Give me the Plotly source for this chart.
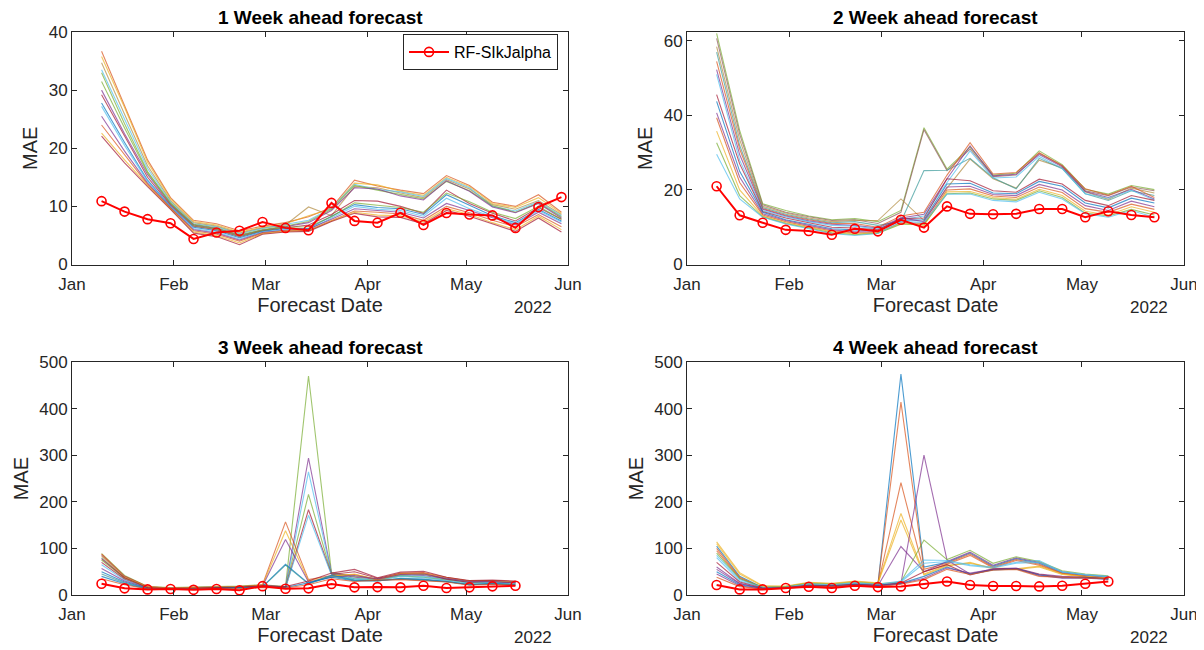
import plotly.graph_objects as go

# ---------------- data ----------------
dates = ["2022-01-10", "2022-01-17", "2022-01-24", "2022-01-31", "2022-02-07", "2022-02-14",
         "2022-02-21", "2022-02-28", "2022-03-07", "2022-03-14", "2022-03-21", "2022-03-28",
         "2022-04-04", "2022-04-11", "2022-04-18", "2022-04-25", "2022-05-02", "2022-05-09",
         "2022-05-16", "2022-05-23", "2022-05-30"]

month_ticks = ["2022-01-01", "2022-02-01", "2022-03-01", "2022-04-01", "2022-05-01", "2022-06-01"]
month_labels = ["Jan", "Feb", "Mar", "Apr", "May", "Jun"]

titles = ["1 Week ahead forecast", "2 Week ahead forecast", "3 Week ahead forecast", "4 Week ahead forecast"]
red_name = "RF-SIkJalpha"

# 1 week ahead
red_w1 = [10.9, 9.1, 7.8, 7.1, 4.4, 5.5, 5.8, 7.3, 6.3, 5.9, 10.6, 7.5, 7.2, 8.9, 6.8, 8.85, 8.6, 8.45, 6.3, 9.9, 11.6]
ens_w1 = [
    [36.7, 27.5, 18.0, 11.5, 7.6, 7.0, 5.8, 6.6, 7.2, 8.2, 9.8, 14.5, 13.5, 12.8, 12.2, 15.3, 13.6, 10.7, 10.0, 12.0, 9.0],
    [35.8, 27.0, 17.6, 11.3, 7.4, 6.8, 5.6, 6.4, 7.0, 8.4, 9.6, 14.0, 13.7, 12.6, 11.9, 15.0, 13.4, 10.5, 9.8, 11.5, 8.8],
    [34.7, 26.0, 17.0, 11.0, 7.2, 6.6, 5.4, 6.3, 6.8, 9.9, 8.4, 13.4, 13.2, 12.3, 11.5, 14.6, 13.0, 10.3, 9.5, 11.0, 8.6],
    [33.5, 25.0, 16.5, 10.8, 7.0, 6.5, 5.3, 6.2, 6.9, 7.6, 9.7, 13.8, 12.9, 12.5, 11.7, 14.8, 13.2, 10.0, 9.2, 10.8, 8.4],
    [33.0, 24.2, 16.0, 10.6, 6.9, 6.3, 5.1, 6.0, 6.6, 7.4, 9.5, 13.6, 12.8, 12.0, 11.3, 14.3, 12.7, 10.1, 9.0, 10.6, 8.2],
    [30.0, 22.5, 15.5, 10.4, 6.8, 6.2, 5.0, 5.9, 6.5, 7.2, 9.3, 13.2, 13.0, 11.8, 11.1, 14.4, 12.6, 9.9, 8.9, 10.5, 8.0],
    [29.2, 22.0, 15.0, 10.2, 6.6, 6.0, 4.8, 5.8, 6.3, 6.8, 8.6, 11.0, 10.9, 10.0, 8.8, 12.8, 10.5, 8.8, 7.5, 9.8, 7.8],
    [27.8, 21.0, 14.5, 10.0, 6.4, 5.8, 4.6, 5.7, 6.2, 6.2, 8.3, 10.3, 9.8, 9.6, 8.6, 12.0, 10.2, 8.4, 7.2, 9.5, 7.5],
    [27.2, 20.5, 14.3, 9.9, 6.2, 5.6, 4.4, 5.6, 6.0, 6.0, 8.0, 10.0, 9.5, 9.3, 8.3, 11.4, 9.6, 8.2, 7.0, 9.3, 7.3],
    [25.5, 19.5, 14.0, 9.8, 6.0, 5.4, 4.2, 5.5, 5.9, 6.1, 7.8, 9.6, 9.3, 9.0, 8.0, 10.5, 9.3, 8.0, 6.8, 9.0, 7.0],
    [24.0, 18.8, 13.8, 9.7, 5.8, 5.2, 4.0, 5.4, 5.8, 5.9, 7.6, 9.2, 9.0, 8.7, 7.6, 10.0, 8.9, 7.6, 6.5, 8.6, 6.5],
    [22.6, 18.0, 13.6, 9.6, 5.6, 5.0, 3.7, 5.3, 5.7, 5.8, 7.5, 9.0, 8.5, 8.4, 7.3, 9.6, 8.6, 7.2, 6.0, 8.3, 6.0],
    [22.1, 17.5, 13.4, 9.5, 5.4, 4.8, 3.4, 5.2, 5.6, 5.7, 7.4, 8.8, 8.2, 8.1, 7.0, 9.3, 8.3, 7.0, 5.7, 8.0, 5.6],
    [31.5, 23.5, 15.8, 10.5, 6.7, 6.1, 4.9, 5.9, 6.4, 6.5, 8.2, 10.6, 10.2, 9.8, 9.0, 12.3, 10.8, 9.0, 7.9, 10.0, 7.8],
]

# 2 weeks ahead
red_w2 = [21.0, 13.2, 11.2, 9.3, 9.0, 8.0, 9.6, 8.9, 12.0, 9.9, 15.6, 13.6, 13.5, 13.6, 14.9, 14.9, 12.7, 14.3, 13.3, 12.7]
ens_w2 = [
    [62.0, 36.0, 16.3, 14.5, 13.0, 12.0, 12.3, 11.5, 14.5, 36.7, 25.6, 31.5, 24.0, 24.5, 30.5, 26.8, 20.2, 18.9, 21.2, 20.1],
    [60.7, 35.0, 16.0, 14.0, 12.8, 11.8, 12.0, 11.0, 14.0, 36.2, 25.2, 31.0, 23.6, 24.0, 29.8, 26.5, 19.8, 18.5, 20.8, 19.8],
    [58.5, 33.5, 15.6, 13.8, 12.5, 11.5, 11.8, 11.8, 17.6, 11.8, 20.5, 28.3, 23.0, 20.5, 28.0, 26.0, 19.5, 17.5, 20.5, 19.2],
    [57.0, 32.0, 15.3, 13.5, 12.2, 11.2, 11.5, 10.5, 11.5, 25.2, 25.3, 28.5, 23.3, 20.3, 28.5, 25.7, 19.0, 17.2, 19.8, 18.5],
    [54.5, 31.0, 15.0, 13.2, 12.0, 11.0, 11.0, 10.0, 13.0, 14.0, 24.0, 32.7, 24.3, 24.7, 30.0, 26.5, 20.3, 18.6, 21.0, 18.0],
    [52.3, 29.5, 14.8, 13.0, 11.7, 10.8, 10.5, 9.8, 12.5, 13.5, 23.0, 31.8, 23.8, 24.2, 29.5, 26.2, 19.6, 18.0, 20.2, 17.6],
    [51.0, 28.0, 14.5, 12.8, 11.5, 10.5, 10.3, 9.5, 12.0, 13.0, 22.0, 30.5, 23.2, 23.5, 29.0, 25.8, 19.0, 17.8, 19.9, 17.3],
    [45.6, 27.0, 14.2, 12.5, 11.2, 10.0, 9.8, 9.3, 12.3, 12.5, 23.0, 22.5, 19.8, 19.4, 22.9, 21.6, 17.2, 15.8, 18.5, 17.2],
    [43.8, 25.0, 14.0, 12.0, 10.8, 9.6, 9.3, 9.0, 11.8, 12.0, 21.6, 21.8, 19.2, 19.0, 22.3, 21.0, 16.5, 15.2, 17.8, 16.5],
    [40.7, 23.5, 13.6, 11.8, 10.5, 9.3, 8.8, 8.8, 12.5, 11.5, 20.8, 21.0, 18.8, 18.5, 21.5, 20.0, 15.8, 14.5, 17.0, 15.5],
    [39.4, 22.0, 13.3, 11.5, 10.2, 9.0, 8.5, 8.6, 11.2, 11.0, 20.0, 20.3, 18.4, 18.0, 20.8, 19.3, 15.0, 14.0, 16.2, 14.8],
    [35.8, 20.0, 13.0, 11.2, 10.0, 8.8, 8.2, 8.5, 11.0, 10.5, 19.5, 19.6, 18.0, 17.5, 20.2, 18.5, 14.3, 13.3, 15.5, 14.0],
    [32.7, 18.5, 12.8, 11.0, 9.8, 8.5, 8.0, 8.4, 10.8, 10.8, 19.0, 19.2, 17.6, 17.2, 19.8, 18.0, 13.8, 13.0, 14.8, 13.3],
    [29.6, 17.6, 12.7, 10.9, 9.6, 8.3, 7.8, 8.3, 11.5, 11.3, 18.9, 18.9, 17.2, 16.8, 19.4, 17.6, 13.6, 12.7, 14.5, 12.7],
]

# 3 weeks ahead
red_w3 = [24, 14.3, 12, 13, 11, 13, 10, 19, 13.5, 14.3, 23.5, 16.4, 17, 16.4, 20, 15, 16.4, 18.6, 20]
ens_w3 = [
    [89, 42, 18, 16, 17, 18, 19, 22, 18, 470, 48, 40, 35, 45, 44, 35, 30, 30, 28],
    [85, 40, 17, 15, 16, 17, 18, 21, 17, 294, 47, 38, 34, 43, 42, 34, 28, 29, 27],
    [80, 38, 16, 15, 16, 16, 17, 20, 16, 264, 46, 36, 33, 42, 40, 33, 27, 28, 26],
    [75, 36, 16, 14, 15, 16, 17, 19, 16, 216, 45, 35, 32, 41, 38, 32, 26, 27, 25],
    [70, 34, 15, 14, 15, 15, 16, 19, 15, 183, 44, 50, 36, 46, 47, 34, 27, 28, 26],
    [65, 32, 15, 13, 14, 15, 16, 18, 15, 171, 43, 34, 31, 40, 37, 31, 25, 27, 24],
    [88, 40, 18, 15, 16, 17, 17, 22, 157, 33, 42, 44, 33, 47, 48, 38, 30, 31, 29],
    [83, 38, 17, 15, 16, 17, 18, 21, 138, 30, 40, 45, 33, 45, 46, 37, 30, 30, 28],
    [57, 30, 15, 14, 14, 15, 16, 19, 119, 28, 38, 42, 34, 44, 45, 36, 29, 29, 27],
    [50, 28, 14, 13, 14, 14, 15, 18, 66, 25, 42, 32, 30, 36, 34, 29, 22, 25, 22],
    [45, 26, 14, 13, 13, 14, 15, 17, 64, 24, 41, 31, 30, 35, 33, 28, 23, 24, 21],
    [78, 37, 16, 14, 15, 16, 17, 20, 18, 30, 47, 55, 37, 49, 51, 38, 31, 32, 30],
    [40, 24, 13, 12, 13, 14, 15, 17, 16, 26, 38, 30, 31, 34, 32, 29, 22, 24, 22],
    [35, 22, 13, 12, 13, 13, 14, 16, 15, 22, 35, 29, 32, 33, 31, 28, 21, 23, 21],
]

# 4 weeks ahead
red_w4 = [21.4, 12, 12, 15, 17.8, 15, 20, 17, 18.5, 23.5, 29, 21.4, 19.3, 19.3, 18.5, 20, 24, 29]
ens_w4 = [
    [105, 40, 16, 17, 22, 20, 24, 22, 474, 60, 70, 90, 62, 78, 68, 48, 42, 38],
    [100, 38, 15, 17, 23, 21, 25, 23, 414, 55, 68, 88, 60, 76, 66, 47, 41, 37],
    [95, 36, 15, 16, 22, 20, 24, 22, 241, 50, 66, 85, 58, 74, 64, 46, 40, 37],
    [114, 48, 20, 19, 27, 25, 30, 26, 175, 45, 64, 68, 58, 56, 62, 45, 40, 38],
    [110, 45, 19, 18, 26, 24, 29, 25, 161, 43, 62, 70, 56, 55, 60, 44, 39, 36],
    [60, 25, 14, 16, 20, 19, 22, 20, 104, 50, 72, 92, 64, 80, 70, 50, 43, 39],
    [55, 24, 14, 15, 20, 19, 23, 21, 25, 300, 75, 45, 56, 58, 45, 40, 38, 35],
    [90, 35, 17, 18, 25, 23, 27, 24, 28, 118, 76, 96, 68, 82, 72, 52, 45, 41],
    [85, 33, 16, 17, 24, 22, 26, 23, 30, 75, 74, 65, 60, 70, 74, 50, 44, 40],
    [80, 30, 16, 16, 23, 21, 25, 22, 28, 68, 72, 63, 58, 68, 70, 49, 43, 39],
    [70, 28, 15, 16, 21, 20, 23, 21, 26, 50, 65, 43, 55, 57, 44, 38, 38, 35],
    [50, 22, 14, 15, 20, 19, 22, 20, 25, 40, 60, 45, 54, 56, 43, 37, 37, 34],
    [45, 20, 13, 15, 19, 18, 21, 19, 24, 36, 58, 47, 55, 57, 42, 36, 36, 34],
    [38, 18, 13, 14, 19, 18, 21, 18, 23, 33, 55, 44, 53, 55, 40, 38, 37, 35],
]

y_ranges = [[0, 40], [0, 62.4], [0, 500], [0, 500]]
y_ticks = [[0, 10, 20, 30, 40], [0, 20, 40, 60], [0, 100, 200, 300, 400, 500], [0, 100, 200, 300, 400, 500]]

# ---------------- style ----------------
MB = "#0072BD"; MO = "#D95319"; MY = "#EDB120"; MP = "#7E2F8E"; MG = "#77AC30"; MC = "#4DBEEE"; MR = "#A2142F"
colors_w1 = [MO, MY, "#B08A3E", MC, MG, MP, MR, MB, MC, MP, MO, MY, MR, MG]
colors_w2 = [MG, "#8E5A5A", "#B08A3E", "#3B9A9A", MO, MP, MC, MR, MB, MP, MO, MY, MG, MC]
colors_w3 = [MG, MP, MC, MG, MR, MC, MO, MY, MP, MB, "#3B9A9A", MR, MB, MO]
colors_w4 = [MB, MO, MO, MY, MY, MP, MP, MG, MC, MC, MR, MB, MP, MO]

def hex_rgba(h, a):
    h = h.lstrip("#")
    return "rgba(%d,%d,%d,%.2f)" % (int(h[0:2], 16), int(h[2:4], 16), int(h[4:6], 16), a)

FONT = "Liberation Sans, Arial, Helvetica, sans-serif"
AX = "#262626"

# page has an 8px body margin: figure occupies page pixels 8..1204 x 8..650
OFF = 8
W = 1204 - OFF
H = 650 - OFF

def px_x(px):
    return (px - OFF) / W

def px_y(py):
    return (650 - py) / H

fig = go.Figure()

panels = [
    (ens_w1, red_w1, colors_w1),
    (ens_w2, red_w2, colors_w2),
    (ens_w3, red_w3, colors_w3),
    (ens_w4, red_w4, colors_w4),
]

x_domains = [[px_x(72), px_x(568)], [px_x(687), px_x(1184)], [px_x(72), px_x(568)], [px_x(687), px_x(1184)]]
y_domains = [[px_y(264.5), px_y(32)], [px_y(264.5), px_y(32)], [px_y(595), px_y(362)], [px_y(595), px_y(362)]]

for i, (ens, red, cols) in enumerate(panels):
    n = len(red)
    xa = "x" if i == 0 else "x%d" % (i + 1)
    ya = "y" if i == 0 else "y%d" % (i + 1)
    for k, series in enumerate(ens):
        fig.add_trace(go.Scatter(
            x=dates[:n], y=series, mode="lines",
            line=dict(color=hex_rgba(cols[k % len(cols)], 0.7), width=1.1),
            showlegend=False, hoverinfo="skip", xaxis=xa, yaxis=ya))
    fig.add_trace(go.Scatter(
        x=dates[:n], y=red, mode="lines+markers", name=red_name,
        line=dict(color="#FF0000", width=2),
        marker=dict(symbol="circle-open", size=9, color="#FF0000", line=dict(width=1.6, color="#FF0000")),
        showlegend=(i == 0), xaxis=xa, yaxis=ya))

layout = dict(
    width=W, height=H,
    margin=dict(l=0, r=0, t=0, b=0, autoexpand=False),
    paper_bgcolor="white", plot_bgcolor="white",
    font=dict(family=FONT, size=17, color=AX),
    legend=dict(x=px_x(558), y=px_y(34), xanchor="right", yanchor="top",
                bgcolor="white", bordercolor=AX, borderwidth=1,
                font=dict(family=FONT, size=16, color="#000000"),
                tracegroupgap=0, itemwidth=40),
    annotations=[],
)

for i in range(4):
    xk = "xaxis" if i == 0 else "xaxis%d" % (i + 1)
    yk = "yaxis" if i == 0 else "yaxis%d" % (i + 1)
    ya_ref = "y" if i == 0 else "y%d" % (i + 1)
    xa_ref = "x" if i == 0 else "x%d" % (i + 1)
    layout[xk] = dict(
        domain=x_domains[i], anchor=ya_ref, type="date", automargin=False,
        range=["2022-01-01", "2022-06-01"],
        tickmode="array", tickvals=month_ticks, ticktext=month_labels,
        ticks="inside", ticklen=5, tickwidth=1, tickcolor=AX,
        showline=True, linecolor=AX, linewidth=1, mirror="ticks",
        showgrid=False, zeroline=False, ticklabelstandoff=4,
        tickfont=dict(family=FONT, size=17, color=AX),
        title=dict(text="Forecast Date", font=dict(family=FONT, size=20, color=AX), standoff=4),
    )
    layout[yk] = dict(
        domain=y_domains[i], anchor=xa_ref, automargin=False,
        range=y_ranges[i], tickmode="array", tickvals=y_ticks[i],
        ticks="inside", ticklen=5, tickwidth=1, tickcolor=AX,
        showline=True, linecolor=AX, linewidth=1, mirror="ticks",
        showgrid=False, zeroline=False,
        tickfont=dict(family=FONT, size=17, color=AX),
        title=dict(text="MAE", font=dict(family=FONT, size=20, color=AX), standoff=5),
    )
    xc = (x_domains[i][0] + x_domains[i][1]) / 2
    layout["annotations"].append(dict(
        text="<b>%s</b>" % titles[i], x=xc, y=y_domains[i][1], xref="paper", yref="paper",
        xanchor="center", yanchor="bottom", yshift=2, showarrow=False,
        font=dict(family=FONT, size=19, color="#000000")))
    layout["annotations"].append(dict(
        text="2022", x=x_domains[i][1] - 35 / W, y=y_domains[i][0], xref="paper", yref="paper",
        xanchor="center", yanchor="top", yshift=-31, showarrow=False,
        font=dict(family=FONT, size=17, color=AX)))

fig.update_layout(**layout)
fig.write_html("out.html")
